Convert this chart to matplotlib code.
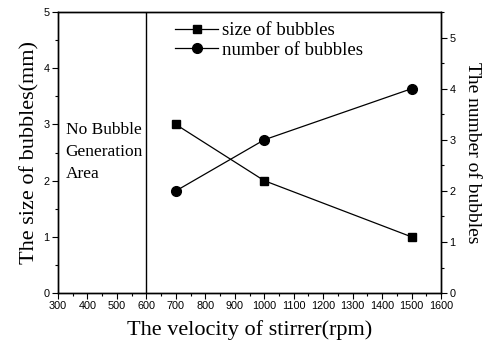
import numpy as np
import matplotlib
matplotlib.use("Agg")
import matplotlib.pyplot as plt
from matplotlib.ticker import MultipleLocator

# data
speed = [700, 1000, 1500]
bubble_size = [3.0, 2.0, 1.0]       # mm, left axis
bubble_count = [2, 3, 4]            # right axis
no_bubble_limit = 600

serif = "Liberation Serif"
sans = "Liberation Sans"

fig = plt.figure(figsize=(4.89, 3.54), dpi=100)
ax = fig.add_axes([0.1186, 0.172, 0.7834, 0.794])
ax2 = ax.twinx()

l1, = ax.plot(speed, bubble_size, color="black", lw=0.9, marker="s", ms=6,
              label="size of bubbles")
l2, = ax2.plot(speed, bubble_count, color="black", lw=0.9, marker="o", ms=7,
               label="number of bubbles")
ax.axvline(no_bubble_limit, color="black", lw=1.0)

ax.set_xlim(300, 1600)
ax.set_ylim(0, 5)
ax2.set_ylim(0, 5.5)

ax.xaxis.set_major_locator(MultipleLocator(100))
ax.xaxis.set_minor_locator(MultipleLocator(50))
ax.yaxis.set_major_locator(MultipleLocator(1))
ax.yaxis.set_minor_locator(MultipleLocator(0.5))
ax2.yaxis.set_major_locator(MultipleLocator(1))
ax2.yaxis.set_minor_locator(MultipleLocator(0.5))

for a in (ax, ax2):
    a.tick_params(which="major", length=4, width=0.8, labelsize=7.8, pad=2)
    a.tick_params(which="minor", length=2, width=0.8)
    for lab in a.get_xticklabels() + a.get_yticklabels():
        lab.set_fontfamily(sans)
    for s in a.spines.values():
        s.set_linewidth(1.0)

ax.set_xlabel("The velocity of stirrer(rpm)", fontsize=16, fontfamily=serif, labelpad=6)
ax.set_ylabel("The size of bubbles(mm)", fontsize=16, fontfamily=serif, labelpad=3)
ax2.set_ylabel("The number of bubbles", fontsize=14, fontfamily=serif,
               rotation=270, labelpad=18)

ax.text(326, 3.04, "No Bubble\nGeneration\nArea", fontsize=12.5, fontfamily=serif,
        va="top", ha="left", linespacing=1.5)

ax.legend(handles=[l1, l2], loc="upper left", bbox_to_anchor=(0.272, 1.01),
          frameon=False, prop={"family": serif, "size": 13.5}, handlelength=2.3,
          handletextpad=0.2, labelspacing=0.12, borderpad=0.2)

fig.savefig("out.png", dpi=100)
